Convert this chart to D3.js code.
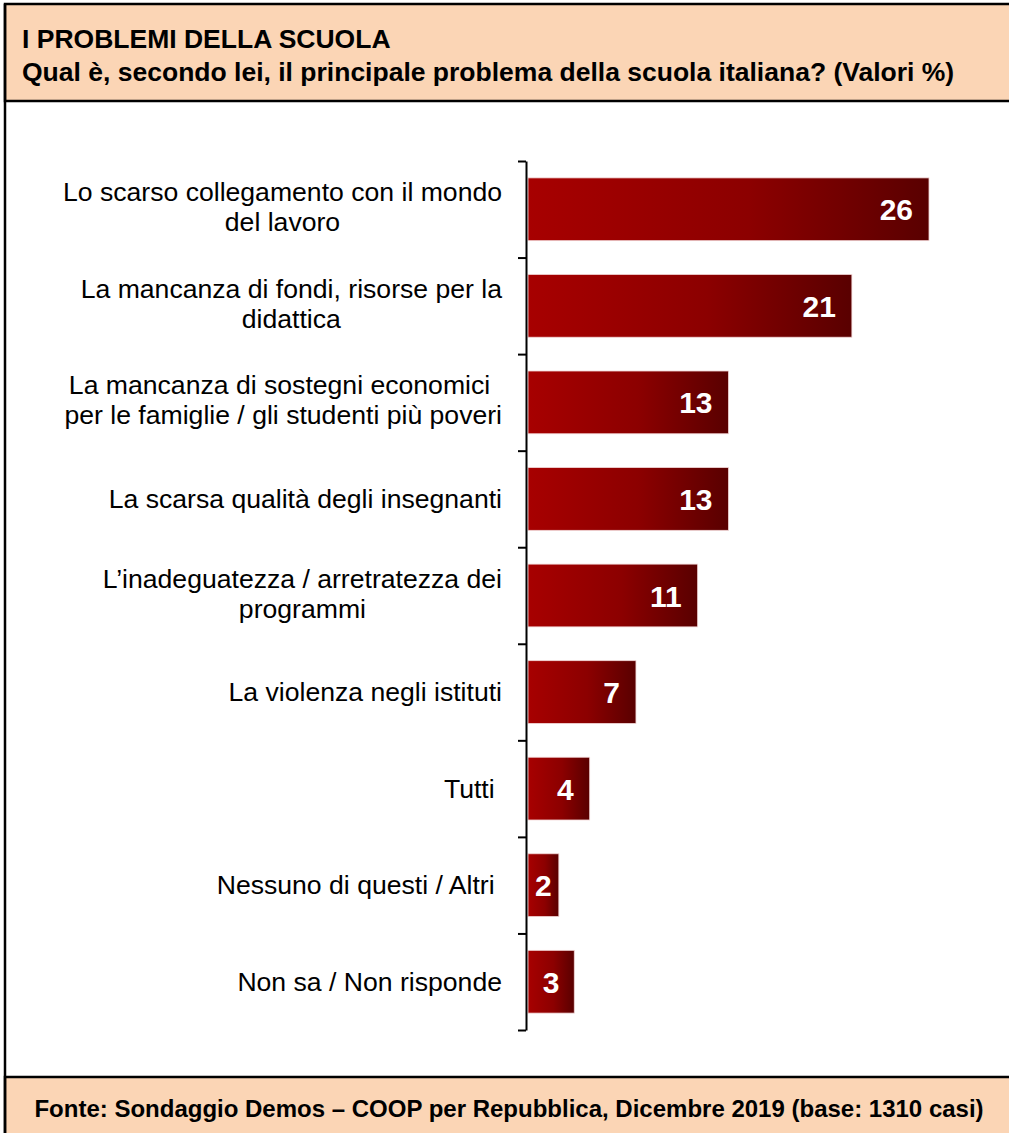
<!DOCTYPE html>
<html>
<head>
<meta charset="utf-8">
<script src="https://cdn.jsdelivr.net/npm/d3@7"></script>
<style>
  html, body { margin: 0; padding: 0; background: #fff; }
  svg text { font-family: "Liberation Sans", Arial, sans-serif; white-space: pre; }
</style>
</head>
<body>
<svg id="chart" width="1009" height="1133"></svg>
<script>
// Survey answers, top to bottom (line breaks marked with \n)
const categories = [
  "Lo scarso collegamento con il mondo\ndel lavoro",
  "La mancanza di fondi, risorse per la\ndidattica",
  "La mancanza di sostegni economici \nper le famiglie / gli studenti più poveri",
  "La scarsa qualità degli insegnanti",
  "L\u2019inadeguatezza / arretratezza dei\nprogrammi",
  "La violenza negli istituti",
  "Tutti ",
  "Nessuno di questi / Altri ",
  "Non sa / Non risponde"
];
const values = [26, 21, 13, 13, 11, 7, 4, 2, 3];

const titleText = "I PROBLEMI DELLA SCUOLA";
const subtitleText = "Qual è, secondo lei, il principale problema della scuola italiana? (Valori %)";
const sourceText = "Fonte: Sondaggio Demos \u2013 COOP per Repubblica, Dicembre 2019 (base: 1310 casi)";

const W = 1009, H = 1133;
const peach = "#fbd5b5";
const svg = d3.select("#chart");

// Header and footer bands
svg.append("rect").attr("x", 0).attr("y", 0).attr("width", W).attr("height", H).attr("fill", "#fff");
svg.append("rect").attr("x", 5).attr("y", 4).attr("width", W + 10).attr("height", 97)
  .attr("fill", peach).attr("stroke", "#000").attr("stroke-width", 2.5);
svg.append("rect").attr("x", 5).attr("y", 1077).attr("width", W + 10).attr("height", 70)
  .attr("fill", peach).attr("stroke", "#000").attr("stroke-width", 2.5);
svg.append("line").attr("x1", 5).attr("x2", 5).attr("y1", 4).attr("y2", H)
  .attr("stroke", "#000").attr("stroke-width", 2.5);

svg.append("text").attr("x", 22).attr("y", 48)
  .attr("font-size", 26.5).attr("font-weight", "bold").attr("fill", "#000").text(titleText);
svg.append("text").attr("x", 22).attr("y", 81)
  .attr("font-size", 26.5).attr("font-weight", "bold").attr("fill", "#000").text(subtitleText);
svg.append("text").attr("x", 509).attr("y", 1117).attr("text-anchor", "middle")
  .attr("font-size", 24).attr("font-weight", "bold").attr("fill", "#000").text(sourceText);

// Scales
const yTop = 161, yBottom = 1030;
const y = d3.scaleBand().domain(d3.range(categories.length))
  .range([yTop, yBottom]).paddingInner(0.35).paddingOuter(0.175);
const x = d3.scaleLinear().domain([0, 26]).range([528, 929]);
const axisX = 526;

// Horizontal gradient for bars
const defs = svg.append("defs");
const grad = defs.append("linearGradient").attr("id", "barGrad")
  .attr("x1", "0%").attr("x2", "100%").attr("y1", "0%").attr("y2", "0%");
grad.append("stop").attr("offset", "0%").attr("stop-color", "#a70000");
grad.append("stop").attr("offset", "55%").attr("stop-color", "#8c0000");
grad.append("stop").attr("offset", "100%").attr("stop-color", "#590000");

// Bars
svg.append("g").selectAll("rect").data(values).join("rect")
  .attr("x", x(0))
  .attr("y", (d, i) => y(i))
  .attr("width", d => x(d) - x(0))
  .attr("height", y.bandwidth())
  .attr("fill", "url(#barGrad)")
  .attr("stroke", "#f2d6d6").attr("stroke-width", 0.8);

// Category axis with ticks at band boundaries
const edge = d3.scaleLinear().domain([0, categories.length]).range([yTop, yBottom]);
const axis = d3.axisLeft(edge).tickValues(d3.range(categories.length + 1))
  .tickFormat("").tickSize(8).tickSizeOuter(0);
const gAxis = svg.append("g").attr("transform", `translate(${axisX},0)`).call(axis);
gAxis.select(".domain").attr("stroke", "#000").attr("stroke-width", 2);
gAxis.selectAll(".tick line").attr("stroke", "#000").attr("stroke-width", 2);

// Category labels: lines centered within a block right-aligned to x=502
const labelRight = 502;
const gLab = svg.append("g");
categories.forEach((c, i) => {
  const lines = c.split("\n");
  const cy = y(i) + y.bandwidth() / 2;
  const texts = lines.map((ln, k) => gLab.append("text")
    .attr("font-size", 26.6).attr("fill", "#000").text(ln));
  const maxW = d3.max(texts, t => t.node().getComputedTextLength());
  const cx = labelRight - maxW / 2;
  texts.forEach((t, k) => {
    const base = lines.length === 1 ? cy + 9 : cy - 8 + k * 30;
    t.attr("x", cx).attr("y", base).attr("text-anchor", "middle");
  });
});

// Value labels inside bars
svg.append("g").selectAll("text").data(values).join("text")
  .attr("font-size", 30).attr("font-weight", "bold").attr("fill", "#fff")
  .attr("y", (d, i) => y(i) + y.bandwidth() / 2 + 11)
  .attr("x", d => (x(d) - x(0) > 60) ? x(d) - 16 : (x(0) + x(d)) / 2)
  .attr("text-anchor", d => (x(d) - x(0) > 60) ? "end" : "middle")
  .text(d => d);
</script>
</body>
</html>
